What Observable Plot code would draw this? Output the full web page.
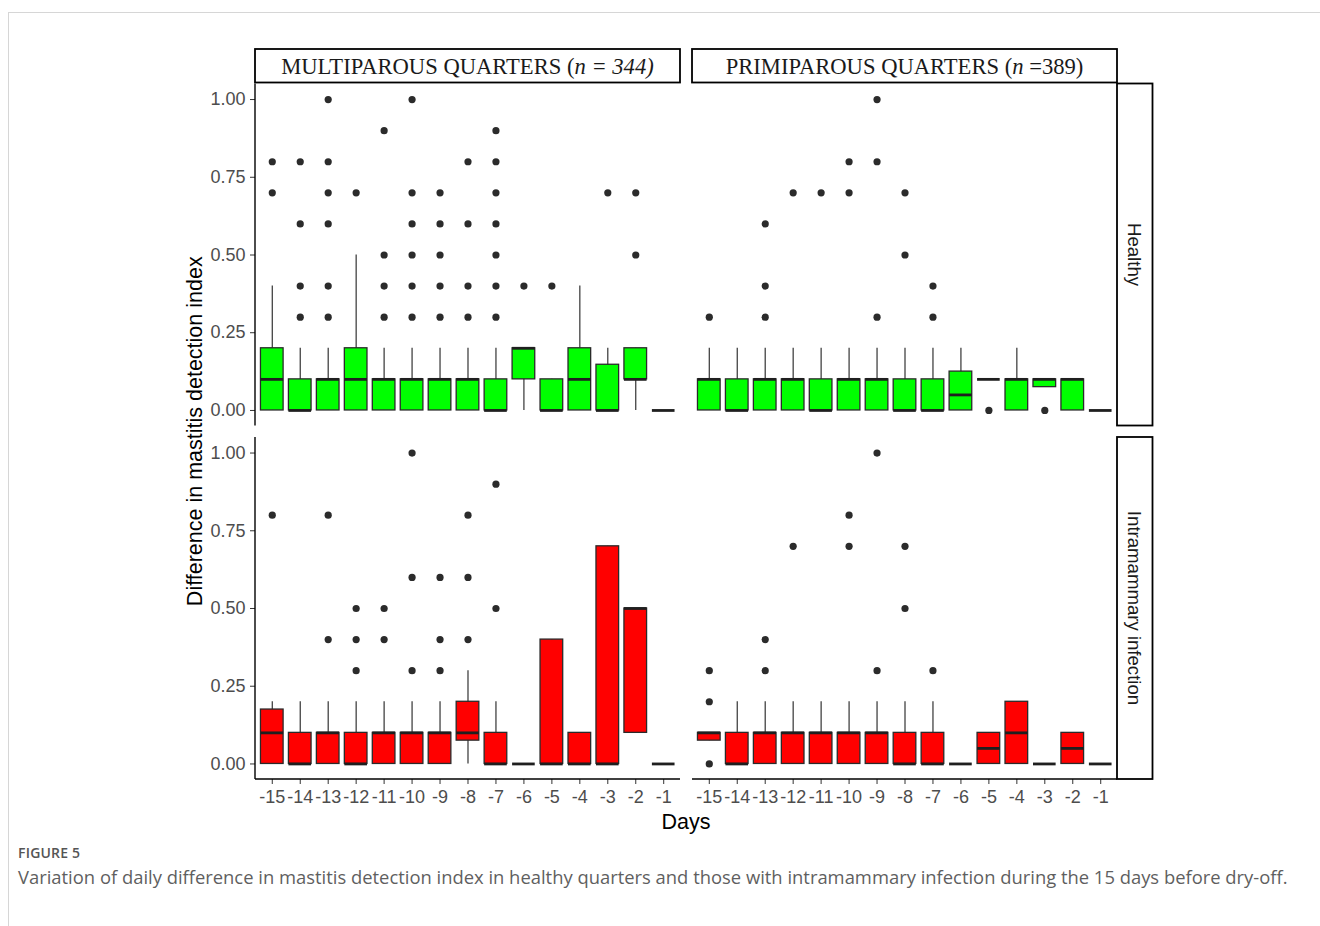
<!DOCTYPE html>
<html>
<head>
<meta charset="utf-8">
<script src="https://cdn.jsdelivr.net/npm/d3@7"></script>
<script src="https://cdn.jsdelivr.net/npm/@observablehq/plot@0.6"></script>
<style>
  html, body { margin: 0; padding: 0; background: #fff; }
  body { width: 1320px; height: 926px; overflow: hidden; position: relative; }
  #frame { position: absolute; left: 8px; top: 12px; right: 0; bottom: 0;
           border-top: 1px solid #d6d6d6; border-left: 1px solid #d6d6d6; }
  #chart { position: absolute; left: 0; top: 0; }
  #figlabel { position: absolute; left: 18px; top: 843px; font-family: "Open Sans", sans-serif;
              font-size: 14px; font-weight: 600; color: #555; letter-spacing: 0.2px; }
  #caption { position: absolute; left: 18px; top: 864px; font-family: "Open Sans", sans-serif;
             font-size: 18.4px; color: #5f5f5f; white-space: nowrap; }
</style>
</head>
<body>
<div id="frame"></div>
<div id="chart"></div>
<div id="figlabel">FIGURE 5</div>
<div id="caption">Variation of daily difference in mastitis detection index in healthy quarters and those with intramammary infection during the 15 days before dry-off.</div>
<script>
// ---------- data ----------
const days = ["-15","-14","-13","-12","-11","-10","-9","-8","-7","-6","-5","-4","-3","-2","-1"];
const parities = ["MULTIPAROUS", "PRIMIPAROUS"];
const statuses = ["Healthy", "Intramammary infection"];
const yTicks = [0, 0.25, 0.5, 0.75, 1];

// Multiparous - Healthy
const mhQ1  = [0, 0, 0, 0, 0, 0, 0, 0, 0, 0.1, 0, 0, 0, 0.1, 0];
const mhMed = [0.1, 0, 0.1, 0.1, 0.1, 0.1, 0.1, 0.1, 0, 0.2, 0, 0.1, 0, 0.1, 0];
const mhQ3  = [0.2, 0.1, 0.1, 0.2, 0.1, 0.1, 0.1, 0.1, 0.1, 0.2, 0.1, 0.2, 0.147, 0.2, 0];
const mhLo  = [0, 0, 0, 0, 0, 0, 0, 0, 0, 0, 0, 0, 0, 0, 0];
const mhHi  = [0.4, 0.2, 0.2, 0.5, 0.2, 0.2, 0.2, 0.2, 0.2, 0.2, 0.1, 0.4, 0.2, 0.2, 0];
const mhOut = [[0.8,0.7],[0.8,0.6,0.4,0.3],[1.0,0.8,0.7,0.6,0.4,0.3],[0.7],[0.9,0.5,0.4,0.3],
               [1.0,0.7,0.6,0.5,0.4,0.3],[0.7,0.6,0.5,0.4,0.3],[0.8,0.6,0.4,0.3],
               [0.9,0.8,0.7,0.6,0.5,0.4,0.3],[0.4],[0.4],[],[0.7],[0.7,0.5],[]];

// Primiparous - Healthy
const phQ1  = [0, 0, 0, 0, 0, 0, 0, 0, 0, 0, 0.1, 0, 0.075, 0, 0];
const phMed = [0.1, 0, 0.1, 0.1, 0, 0.1, 0.1, 0, 0, 0.05, 0.1, 0.1, 0.1, 0.1, 0];
const phQ3  = [0.1, 0.1, 0.1, 0.1, 0.1, 0.1, 0.1, 0.1, 0.1, 0.125, 0.1, 0.1, 0.1, 0.1, 0];
const phLo  = [0, 0, 0, 0, 0, 0, 0, 0, 0, 0, 0.1, 0, 0.075, 0, 0];
const phHi  = [0.2, 0.2, 0.2, 0.2, 0.2, 0.2, 0.2, 0.2, 0.2, 0.2, 0.1, 0.2, 0.1, 0.1, 0];
const phOut = [[0.3],[],[0.6,0.4,0.3],[0.7],[0.7],[0.8,0.7],[1.0,0.8,0.3],[0.7,0.5],
               [0.4,0.3],[],[0],[],[0],[],[]];

// Multiparous - Intramammary infection
const miQ1  = [0, 0, 0, 0, 0, 0, 0, 0.075, 0, 0, 0, 0, 0, 0.1, 0];
const miMed = [0.1, 0, 0.1, 0, 0.1, 0.1, 0.1, 0.1, 0, 0, 0, 0, 0, 0.5, 0];
const miQ3  = [0.175, 0.1, 0.1, 0.1, 0.1, 0.1, 0.1, 0.2, 0.1, 0, 0.4, 0.1, 0.7, 0.5, 0];
const miLo  = [0, 0, 0, 0, 0, 0, 0, 0, 0, 0, 0, 0, 0, 0.1, 0];
const miHi  = [0.2, 0.2, 0.2, 0.2, 0.2, 0.2, 0.2, 0.3, 0.2, 0, 0.4, 0.1, 0.7, 0.5, 0];
const miOut = [[0.8],[],[0.8,0.4],[0.5,0.4,0.3],[0.5,0.4],[1.0,0.6,0.3],[0.6,0.4,0.3],
               [0.8,0.6,0.4],[0.9,0.5],[],[],[],[],[],[]];

// Primiparous - Intramammary infection
const piQ1  = [0.075, 0, 0, 0, 0, 0, 0, 0, 0, 0, 0, 0, 0, 0, 0];
const piMed = [0.1, 0, 0.1, 0.1, 0.1, 0.1, 0.1, 0, 0, 0, 0.05, 0.1, 0, 0.05, 0];
const piQ3  = [0.1, 0.1, 0.1, 0.1, 0.1, 0.1, 0.1, 0.1, 0.1, 0, 0.1, 0.2, 0, 0.1, 0];
const piLo  = [0.075, 0, 0, 0, 0, 0, 0, 0, 0, 0, 0, 0, 0, 0, 0];
const piHi  = [0.1, 0.2, 0.2, 0.2, 0.2, 0.2, 0.2, 0.2, 0.2, 0, 0.1, 0.2, 0, 0.1, 0];
const piOut = [[0.3,0.2,0],[],[0.4,0.3],[0.7],[],[0.8,0.7],[1.0,0.3],[0.7,0.5],
               [0.3],[],[],[],[],[],[]];

(function () {
// ---------- build tables ----------
const panels = [
  {parity: parities[0], status: statuses[0], q1: mhQ1, med: mhMed, q3: mhQ3, lo: mhLo, hi: mhHi, out: mhOut},
  {parity: parities[1], status: statuses[0], q1: phQ1, med: phMed, q3: phQ3, lo: phLo, hi: phHi, out: phOut},
  {parity: parities[0], status: statuses[1], q1: miQ1, med: miMed, q3: miQ3, lo: miLo, hi: miHi, out: miOut},
  {parity: parities[1], status: statuses[1], q1: piQ1, med: piMed, q3: piQ3, lo: piLo, hi: piHi, out: piOut}
];
const boxes = panels.flatMap(p => days.map((d, i) => ({
  day: d, parity: p.parity, status: p.status,
  q1: p.q1[i], med: p.med[i], q3: p.q3[i], lo: p.lo[i], hi: p.hi[i]
})));
const outliers = panels.flatMap(p => days.flatMap((d, i) =>
  p.out[i].map(v => ({day: d, parity: p.parity, status: p.status, v}))));

const W = 1320, H = 840;
const chart = Plot.plot({
  width: W, height: H,
  marginLeft: 255, marginRight: 203, marginTop: 83.5, marginBottom: 61,
  style: {fontFamily: "'Liberation Sans', Arial, sans-serif", fontSize: "18px", color: "#4d4d4d", background: "transparent"},
  fx: {domain: parities, axis: null, paddingInner: 0.0275, paddingOuter: 0, round: false, label: null},
  fy: {domain: statuses, axis: null, paddingInner: 0.0325, paddingOuter: 0, round: false, label: null},
  x: {type: "band", domain: days, paddingInner: 0.19, paddingOuter: 0.195, round: false, label: null},
  y: {domain: [-0.05, 1.05], label: null},
  color: {domain: statuses, range: ["#00ff00", "#ff0000"]},
  marks: [
    Plot.ruleX(boxes, {x: "day", y1: "lo", y2: "hi", fx: "parity", fy: "status", stroke: "#333", strokeWidth: 1.2}),
    Plot.barY(boxes, {x: "day", y1: "q1", y2: "q3", fx: "parity", fy: "status", fill: "status", stroke: "#2a2a2a", strokeWidth: 1.3}),
    Plot.tickY(boxes, {x: "day", y: "med", fx: "parity", fy: "status", stroke: "#1f1f1f", strokeWidth: 2.8}),
    Plot.dot(outliers, {x: "day", y: "v", fx: "parity", fy: "status", r: 3.6, fill: "#2b2b2b", stroke: null}),
    Plot.axisY({ticks: yTicks, tickFormat: ".2f", tickSize: 5, tickPadding: 5, label: null, stroke: "#333", fill: "#4d4d4d"}),
    Plot.axisX({tickSize: 5, tickPadding: 6, label: null, stroke: "#333", fill: "#4d4d4d"})
  ]
});
document.getElementById("chart").appendChild(chart);

// ---------- strips, axis lines and titles from the facet scales ----------
const svg = d3.select(chart);
const fxs = chart.scale("fx"), fys = chart.scale("fy");
const bwX = fxs.bandwidth, bwY = fys.bandwidth;
const pLeft = fxs.apply(parities[0]);
const pRight = fxs.apply(parities[1]) + bwX;
const pTop = fys.apply(statuses[0]);
const pBottom = fys.apply(statuses[1]) + bwY;
const deco = svg.append("g");

// axis lines
statuses.forEach(s => {
  deco.append("line").attr("x1", pLeft).attr("x2", pLeft)
    .attr("y1", fys.apply(s)).attr("y2", fys.apply(s) + bwY)
    .attr("stroke", "#000").attr("stroke-width", 1.4);
});
parities.forEach(p => {
  deco.append("line").attr("x1", fxs.apply(p)).attr("x2", fxs.apply(p) + bwX)
    .attr("y1", pBottom).attr("y2", pBottom)
    .attr("stroke", "#000").attr("stroke-width", 1.4);
});

// top strips
const stripH = 33.5;
const stripTexts = [
  [["MULTIPAROUS QUARTERS (", "normal"], ["n = 344)", "italic"]],
  [["PRIMIPAROUS QUARTERS (", "normal"], ["n", "italic"], [" =389)", "normal"]]
];
parities.forEach((p, i) => {
  const x0 = fxs.apply(p);
  deco.append("rect").attr("x", x0).attr("y", pTop - stripH - 1).attr("width", bwX).attr("height", stripH)
    .attr("fill", "#fff").attr("stroke", "#000").attr("stroke-width", 1.8);
  const t = deco.append("text").attr("x", x0 + bwX / 2).attr("y", pTop - stripH / 2 - 1)
    .attr("dy", "0.35em").attr("text-anchor", "middle")
    .attr("font-family", "'Liberation Serif', 'Times New Roman', serif").attr("font-size", 22.6).attr("fill", "#1a1a1a");
  stripTexts[i].forEach(([s, st]) => t.append("tspan").attr("font-style", st).text(s));
});

// right strips
const stripW = 35.5;
statuses.forEach(s => {
  const y0 = fys.apply(s);
  deco.append("rect").attr("x", pRight).attr("y", y0).attr("width", stripW).attr("height", bwY)
    .attr("fill", "#fff").attr("stroke", "#000").attr("stroke-width", 1.8);
  deco.append("text").attr("transform", `translate(${pRight + stripW / 2},${y0 + bwY / 2}) rotate(90)`)
    .attr("dy", "0.35em").attr("text-anchor", "middle")
    .attr("font-family", "'Liberation Sans', Arial, sans-serif").attr("font-size", 18.6).attr("fill", "#1a1a1a")
    .text(s);
});

// axis titles
deco.append("text").attr("transform", `translate(${pLeft - 53},${(pTop + pBottom) / 2}) rotate(-90)`)
  .attr("text-anchor", "middle").attr("font-size", 21.5).attr("fill", "#000")
  .attr("font-family", "'Liberation Sans', Arial, sans-serif")
  .text("Difference in mastitis detection index");
deco.append("text").attr("x", (pLeft + pRight) / 2).attr("y", pBottom + 50)
  .attr("text-anchor", "middle").attr("font-size", 21.5).attr("fill", "#000")
  .attr("font-family", "'Liberation Sans', Arial, sans-serif")
  .text("Days");
})();
</script>
</body>
</html>
